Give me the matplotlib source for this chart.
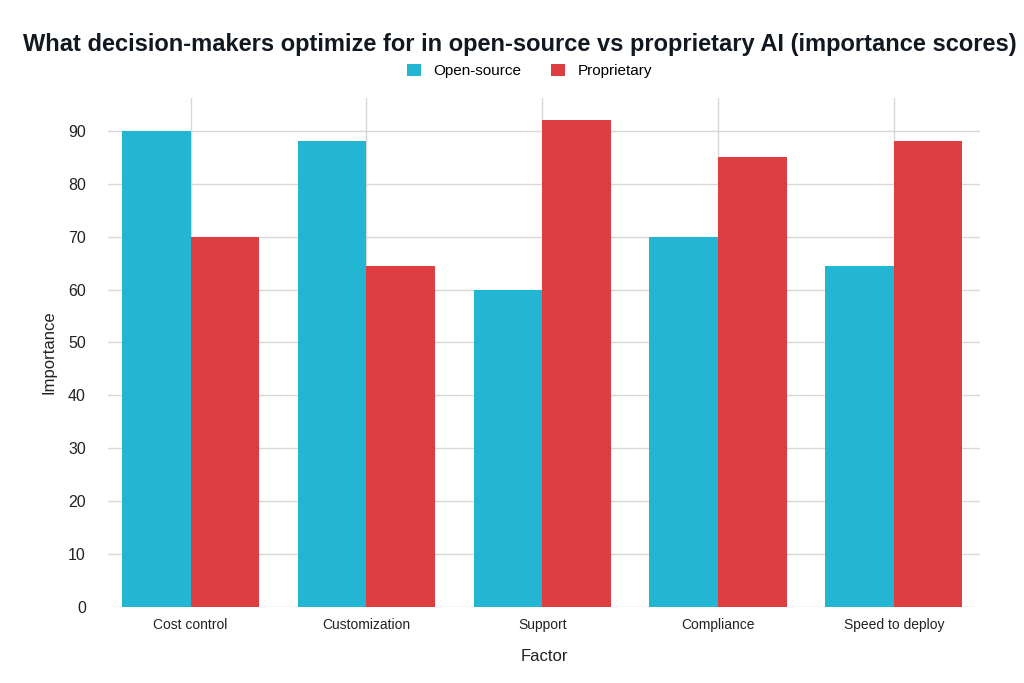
import matplotlib
matplotlib.use("Agg")
import matplotlib.pyplot as plt
import numpy as np

categories = ["Cost control", "Customization", "Support", "Compliance", "Speed to deploy"]
open_source = [90, 88, 60, 70, 64.5]
proprietary = [70, 64.5, 92, 85, 88]
series_names = ["Open-source", "Proprietary"]
colors = ["#23b6d2", "#dd3e42"]

plt.rcParams['font.family'] = ['Liberation Sans', 'DejaVu Sans']

fig = plt.figure(figsize=(10.24, 6.83), dpi=100)
ax = fig.add_axes([108/1024, 1 - 607/683, (980-108)/1024, (607-98)/683])

x = np.arange(len(categories))
w = 0.39
ax.bar(x - w/2, open_source, w, color=colors[0], label=series_names[0], zorder=3)
ax.bar(x + w/2, proprietary, w, color=colors[1], label=series_names[1], zorder=3)

ax.set_xlim(-0.47, 4.49)
ax.set_ylim(0, 96.2)
ax.set_yticks(range(0, 91, 10))
ax.set_xticks(x)
ax.set_xticklabels(categories, fontsize=10, color="#222222")
ax.tick_params(axis='y', labelsize=11.5, colors="#222222", length=0, pad=16)
ax.tick_params(axis='x', length=0, pad=8)
ax.grid(True, color="#d8d8d8", linewidth=1.0, zorder=0)
for s in ax.spines.values():
    s.set_visible(False)
ax.set_axisbelow(True)

ax.set_xlabel("Factor", fontsize=12, color="#222222", labelpad=12)
ax.set_ylabel("Importance", fontsize=12, color="#222222", labelpad=8)

fig.text(0.508, 1 - 45/683, "What decision-makers optimize for in open-source vs proprietary AI (importance scores)",
         ha="center", va="center", fontsize=17, fontweight="bold", color="#111820")
fig.legend(loc="center", bbox_to_anchor=(0.517, 1 - 71/683), ncol=2, frameon=False,
           fontsize=11, handlelength=0.9, handleheight=0.9, columnspacing=2.0, handletextpad=0.8)

fig.savefig("out.png", dpi=100, facecolor="white")
